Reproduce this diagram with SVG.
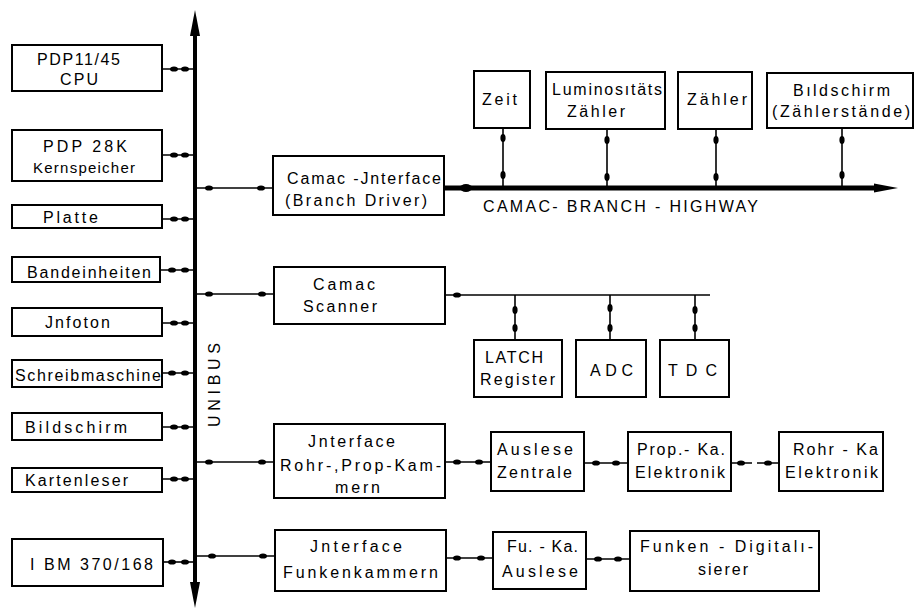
<svg xmlns="http://www.w3.org/2000/svg" width="916" height="611" viewBox="0 0 916 611">
<style>
.box{fill:#fff;stroke:#000;stroke-width:2}
.t{font-family:"Liberation Sans","DejaVu Sans",sans-serif;font-size:16px;fill:#000}
.s{font-size:15px}
.c{fill:none;stroke:#000;stroke-width:1.6;marker-mid:url(#dot)}
.bus{fill:none;stroke:#000;stroke-width:4}
.hw{fill:none;stroke:#000;stroke-width:5}
</style>
<defs>
<marker id="dot" markerUnits="userSpaceOnUse" viewBox="-5 -4 10 8" markerWidth="10" markerHeight="8" refX="0" refY="0" orient="auto">
<ellipse cx="0" cy="0" rx="4" ry="2.6" fill="#000"/>
</marker>
</defs>

<g id="connectors">
<!-- UNIBUS -->
<line class="bus" x1="195" y1="32" x2="195" y2="586"/>
<path d="M195,10 L200,36 L190,36 Z" fill="#000"/>
<path d="M195,608 L200,582 L190,582 Z" fill="#000"/>
<!-- left devices to bus -->
<polyline class="c" points="162,69 174,69 185,69 195,69"/>
<polyline class="c" points="162,155 174,155 185,155 195,155"/>
<polyline class="c" points="162,219 174,219 185,219 195,219"/>
<polyline class="c" points="160,270 172,270 185,270 195,270"/>
<polyline class="c" points="162,323 174,323 185,323 195,323"/>
<polyline class="c" points="162,373 172,373 185,373 195,373"/>
<polyline class="c" points="162,427 174,427 185,427 195,427"/>
<polyline class="c" points="162,479 174,479 185,479 195,479"/>
<polyline class="c" points="163,562 172,562 185,562 195,562"/>
<!-- bus to interfaces -->
<polyline class="c" points="195,188 209,188 261,188 273,188"/>
<polyline class="c" points="195,294 209,294 262,294 274,294"/>
<polyline class="c" points="195,462 209,462 262,462 274,462"/>
<polyline class="c" points="195,556 212,556 263,556 275,556"/>
<!-- CAMAC branch highway -->
<line class="hw" x1="444" y1="188" x2="880" y2="188"/>
<path d="M898,188 L874,183.5 L874,192.5 Z" fill="#000"/>
<ellipse cx="466" cy="188" rx="6" ry="4" fill="#000"/>
<polyline class="c" points="503,128 503,138 503,175 503,188"/>
<polyline class="c" points="607,129 607,140 607,177 607,188"/>
<polyline class="c" points="716,129 716,140 716,177 716,188"/>
<polyline class="c" points="842,128 842,140 842,175 842,188"/>
<!-- scanner line -->
<polyline class="c" points="445,295 457,295 710,295"/>
<polyline class="c" points="515,295 515,310 515,328 515,340"/>
<polyline class="c" points="610,295 610,308 610,328 610,340"/>
<polyline class="c" points="695,295 695,310 695,328 695,340"/>
<!-- chamber readout row -->
<polyline class="c" points="445,462 457,462 479,462 491,462"/>
<polyline class="c" points="584,463 596,463 616,463 628,463"/>
<polyline class="c" points="731,463 741,463 768,463 779,463" stroke-dasharray="8,5"/>
<!-- spark chamber row -->
<polyline class="c" points="446,558 457,558 481,558 493,558"/>
<polyline class="c" points="586,559 598,559 618,559 630,559"/>
</g>

<text class="t" x="220" y="385" text-anchor="middle" transform="rotate(-90 220 385)" font-size="17" textLength="84" lengthAdjust="spacing">UNIBUS</text>

<g id="cpu"><rect class="box" x="12" y="45" width="150" height="46"/>
<text class="t" x="37" y="65" textLength="83" lengthAdjust="spacing">PDP11/45</text>
<text class="t" x="60" y="85" textLength="38" lengthAdjust="spacing">CPU</text></g>

<g id="kernspeicher"><rect class="box" x="12" y="130" width="150" height="51"/>
<text class="t" x="43" y="152" textLength="84" lengthAdjust="spacing">PDP 28K</text>
<text class="t s" x="33" y="173" textLength="102" lengthAdjust="spacing">Kernspeicher</text></g>

<g id="platte"><rect class="box" x="12" y="205" width="150" height="23"/>
<text class="t" x="43" y="223" textLength="55" lengthAdjust="spacing">Platte</text></g>

<g id="bandeinheiten"><rect class="box" x="12" y="257" width="148" height="25"/>
<text class="t" x="27" y="278" textLength="124" lengthAdjust="spacing">Bandeinheiten</text></g>

<g id="jnfoton"><rect class="box" x="12" y="308" width="150" height="28"/>
<text class="t" x="45" y="328" textLength="65" lengthAdjust="spacing">Jnfoton</text></g>

<g id="schreibmaschine"><rect class="box" x="12" y="360" width="150" height="27"/>
<text class="t" x="15" y="381" textLength="146" lengthAdjust="spacing">Schreibmaschine</text></g>

<g id="bildschirm"><rect class="box" x="12" y="413" width="150" height="27"/>
<text class="t" x="25" y="433" textLength="102" lengthAdjust="spacing">Bildschirm</text></g>

<g id="kartenleser"><rect class="box" x="12" y="468" width="150" height="24"/>
<text class="t" x="25" y="486" textLength="103" lengthAdjust="spacing">Kartenleser</text></g>

<g id="ibm"><rect class="box" x="12" y="539" width="151" height="47"/>
<text class="t" x="30" y="570" textLength="123" lengthAdjust="spacing">I BM 370/168</text></g>

<g id="camac-interface"><rect class="box" x="273" y="156" width="171" height="59"/>
<text class="t" x="287" y="184" textLength="154" lengthAdjust="spacing">Camac -Jnterface</text>
<text class="t" x="285" y="206" textLength="142" lengthAdjust="spacing">(Branch Driver)</text></g>

<text class="t" x="483" y="212" textLength="275" lengthAdjust="spacing">CAMAC- BRANCH - HIGHWAY</text>

<g id="zeit"><rect class="box" x="474" y="71" width="56" height="57"/>
<text class="t" x="482" y="105" textLength="35" lengthAdjust="spacing">Zeit</text></g>

<g id="luminositaets"><rect class="box" x="546" y="72" width="119" height="57"/>
<text class="t" x="552" y="95" textLength="110" lengthAdjust="spacing">Luminosıtäts</text>
<text class="t" x="567" y="117" textLength="58" lengthAdjust="spacing">Zähler</text></g>

<g id="zaehler"><rect class="box" x="678" y="72" width="74" height="57"/>
<text class="t" x="687" y="105" textLength="60" lengthAdjust="spacing">Zähler</text></g>

<g id="bildschirm-zaehler"><rect class="box" x="767" y="73" width="146" height="55"/>
<text class="t" x="793" y="96" textLength="97" lengthAdjust="spacing">Bıldschirm</text>
<text class="t" x="772" y="117" textLength="138" lengthAdjust="spacing">(Zählerstände)</text></g>

<g id="camac-scanner"><rect class="box" x="274" y="267" width="171" height="57"/>
<text class="t" x="313" y="290" textLength="62" lengthAdjust="spacing">Camac</text>
<text class="t" x="303" y="312" textLength="74" lengthAdjust="spacing">Scanner</text></g>

<g id="latch"><rect class="box" x="474" y="340" width="88" height="57"/>
<text class="t" x="485" y="363" textLength="58" lengthAdjust="spacing">LATCH</text>
<text class="t" x="480" y="385" textLength="75" lengthAdjust="spacing">Register</text></g>

<g id="adc"><rect class="box" x="576" y="340" width="70" height="57"/>
<text class="t" x="590" y="376" textLength="43" lengthAdjust="spacing">ADC</text></g>

<g id="tdc"><rect class="box" x="660" y="340" width="69" height="57"/>
<text class="t" x="668" y="376" textLength="49" lengthAdjust="spacing">TDC</text></g>

<g id="interface-rohr"><rect class="box" x="274" y="424" width="171" height="74"/>
<text class="t" x="308" y="447" textLength="87" lengthAdjust="spacing">Jnterface</text>
<text class="t" x="280" y="471" textLength="161" lengthAdjust="spacing">Rohr-,Prop-Kam-</text>
<text class="t" x="335" y="493" textLength="45" lengthAdjust="spacing">mern</text></g>

<g id="auslese-zentrale"><rect class="box" x="491" y="432" width="93" height="59"/>
<text class="t" x="497" y="455" textLength="76" lengthAdjust="spacing">Auslese</text>
<text class="t" x="497" y="478" textLength="75" lengthAdjust="spacing">Zentrale</text></g>

<g id="prop-ka"><rect class="box" x="628" y="432" width="103" height="59"/>
<text class="t" x="637" y="455" textLength="88" lengthAdjust="spacing">Prop.- Ka.</text>
<text class="t" x="635" y="478" textLength="90" lengthAdjust="spacing">Elektronik</text></g>

<g id="rohr-ka"><rect class="box" x="779" y="432" width="104" height="59"/>
<text class="t" x="793" y="455" textLength="85" lengthAdjust="spacing">Rohr - Ka</text>
<text class="t" x="785" y="478" textLength="93" lengthAdjust="spacing">Elektronik</text></g>

<g id="interface-funken"><rect class="box" x="275" y="530" width="171" height="61"/>
<text class="t" x="310" y="552" textLength="92" lengthAdjust="spacing">Jnterface</text>
<text class="t" x="283" y="578" textLength="155" lengthAdjust="spacing">Funkenkammern</text></g>

<g id="fu-ka"><rect class="box" x="493" y="532" width="93" height="57"/>
<text class="t" x="507" y="552" textLength="71" lengthAdjust="spacing">Fu. - Ka.</text>
<text class="t" x="502" y="577" textLength="76" lengthAdjust="spacing">Auslese</text></g>

<g id="funken-digitalisierer"><rect class="box" x="630" y="531" width="189" height="60"/>
<text class="t" x="640" y="552" textLength="173" lengthAdjust="spacing">Funken - Digitalı-</text>
<text class="t" x="698" y="575" textLength="50" lengthAdjust="spacing">sierer</text></g>
</svg>
